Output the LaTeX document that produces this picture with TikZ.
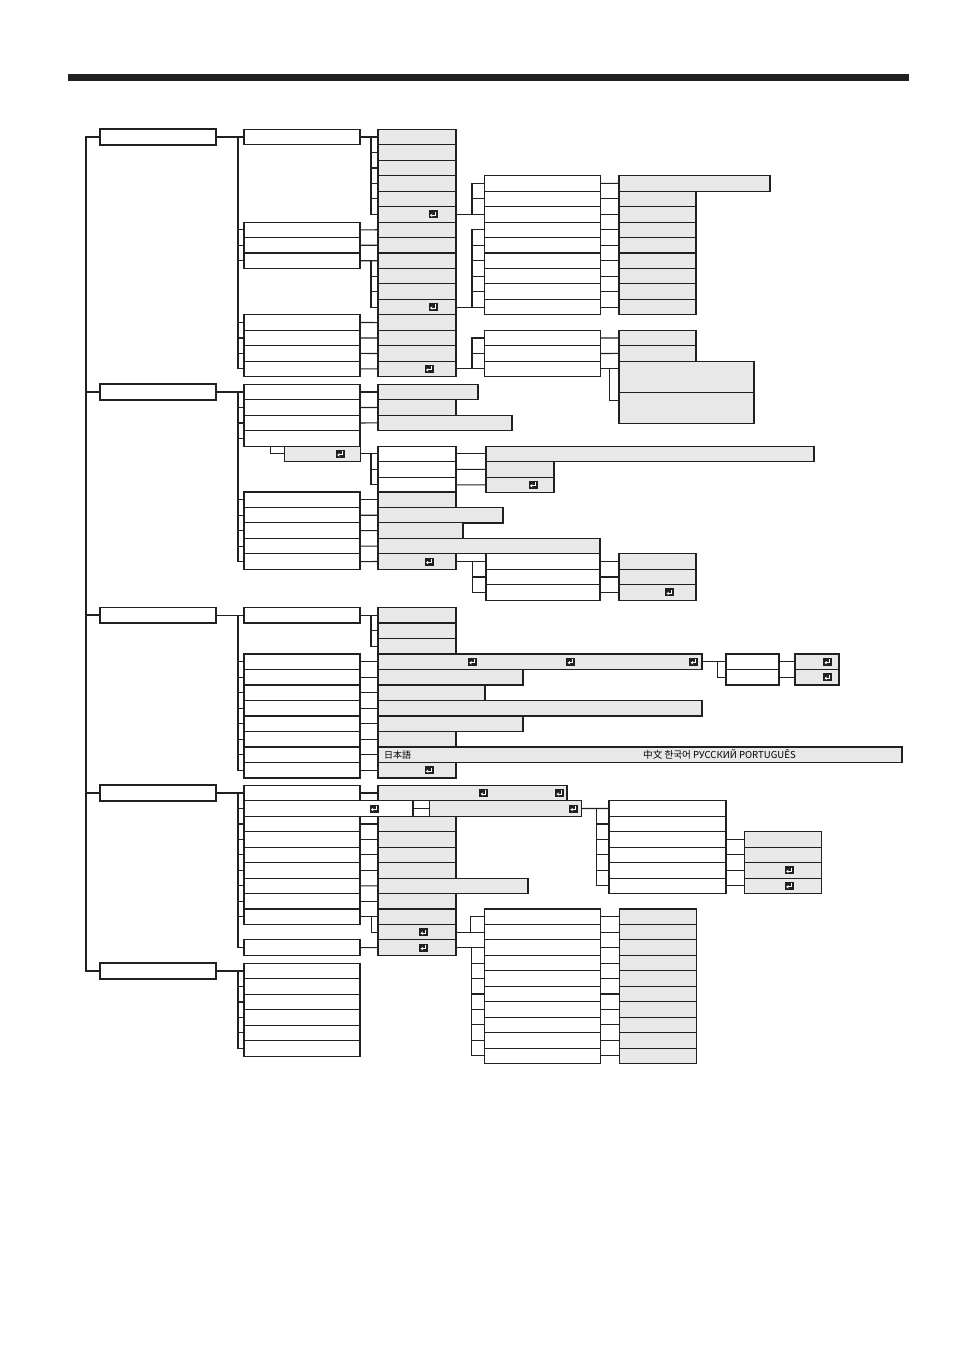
\documentclass[tikz,border=0pt]{standalone}
\usepackage{fontspec}
\usepackage{tikz}
\usetikzlibrary{arrows.meta,positioning}
\newfontfamily\cjk{Noto Sans CJK JP}
\definecolor{ink}{RGB}{35,31,32}
\definecolor{menugray}{RGB}{232,232,232}

\begin{document}
\begin{tikzpicture}[
  x=1pt,y=-1pt,
  wbox/.style={draw=ink,line width=1.1pt,fill=white,inner sep=0pt,outer sep=0pt,
               anchor=north west,minimum height=15.46pt,minimum width=#1},
  wbox/.default=116pt,
  gbox/.style={wbox=#1,fill=menugray},
  gbox/.default=78pt,
  mainbox/.style={wbox,line width=1.7pt},
  link/.style={draw=ink,line width=1.1pt},
  trunk/.style={draw=ink,line width=2pt},
  ent/.style={fill=ink,inner sep=0pt,minimum width=9pt,minimum height=8pt,
    path picture={\draw[white,line width=1pt,-{Stealth[length=2.4pt,width=3.4pt]}]
      ([shift={(2pt,2.6pt)}]path picture bounding box.center) |-
      ([shift={(-3pt,-1pt)}]path picture bounding box.center);}},
  every node/.style={font=\cjk\fontsize{9}{9}\selectfont},
]
\path[use as bounding box,fill=white] (0,0) rectangle (954,1352);
\fill[ink] (68,74) rectangle (909,81);

% --- menu 1 ---
\node[mainbox] (m1) at (100,129.3) {};
\node[wbox] (s1b1) at (244,129.3) {};
\node[wbox] (s1b2) at (244,222.1) {};
\node[wbox] (s1b3) at (244,237.5) {};
\node[wbox] (s1b4) at (244,253.0) {};
\node[wbox] (s1b5) at (244,314.8) {};
\node[wbox] (s1b6) at (244,330.3) {};
\node[wbox] (s1b7) at (244,345.7) {};
\node[wbox] (s1b8) at (244,361.2) {};
\foreach \i in {1,...,16}
  \node[gbox] (s1c\i) at (378,{129.3+15.46*(\i-1)}) {};
\foreach \i in {1,...,9}
  \node[wbox] (s1d\i) at (484.5,{129.3+15.46*(\i+2)}) {};
\foreach \i in {10,11,12}
  \node[wbox] (s1d\i) at (484.5,{129.3+15.46*(\i+3)}) {};
\node[gbox=151pt] (s1e1) at (619,175.7) {};
\foreach \i in {2,...,9}
  \node[gbox=77pt] (s1e\i) at (619,{129.3+15.46*(\i+2)}) {};
\node[gbox=77pt] (s1e10) at (619,330.3) {};
\node[gbox=77pt] (s1e11) at (619,345.7) {};
\node[gbox=135pt,minimum height=31pt] (s1e12) at (619,361.2) {};
\node[gbox=135pt,minimum height=31pt] (s1e13) at (619,392.1) {};
\node[ent] (k1) at ([xshift=-23pt]s1c6.east) {};
\node[ent] (k2) at ([xshift=-23pt]s1c12.east) {};
\node[ent] (k3) at ([xshift=-27pt]s1c16.east) {};

\draw[link] (m1.east) -- (s1b1.west);
\draw[link] ([xshift=-6pt]s1b1.west) |- (s1b8.west);
\foreach \i in {2,...,7} \draw[link] ([xshift=-6pt]s1b\i.west) -- (s1b\i.west);
\draw[link] (s1b1.east) -- (s1c1.west);
\draw[link] ([xshift=-7pt]s1c1.west) |- (s1c6.west);
\foreach \i in {2,...,5} \draw[link] ([xshift=-7pt]s1c\i.west) -- (s1c\i.west);
\draw[link] (s1b2.east) -- (s1c7.west);
\draw[link] (s1b3.east) -- (s1c8.west);
\draw[link] (s1b4.east) -- (s1c9.west);
\draw[link] ([xshift=-7pt]s1c9.west) |- (s1c12.west);
\foreach \i in {10,11} \draw[link] ([xshift=-7pt]s1c\i.west) -- (s1c\i.west);
\draw[link] (s1b5.east) -- (s1c13.west);
\draw[link] (s1b6.east) -- (s1c14.west);
\draw[link] (s1b7.east) -- (s1c15.west);
\draw[link] (s1b8.east) -- (s1c16.west);
\draw[link] (s1c6.east) -- (s1d3.west);
\draw[link] ([xshift=-12.5pt]s1d3.west) |- (s1d1.west);
\draw[link] ([xshift=-12.5pt]s1d2.west) -- (s1d2.west);
\draw[link] (s1c12.east) -- (s1d9.west);
\draw[link] ([xshift=-12.5pt]s1d9.west) |- (s1d4.west);
\foreach \i in {5,...,8} \draw[link] ([xshift=-12.5pt]s1d\i.west) -- (s1d\i.west);
\draw[link] (s1c16.east) -- (s1d12.west);
\draw[link] ([xshift=-12.5pt]s1d12.west) |- (s1d10.west);
\draw[link] ([xshift=-12.5pt]s1d11.west) -- (s1d11.west);
\foreach \i in {1,...,11} \draw[link] (s1d\i.east) -- (s1e\i.west);
\draw[link] (s1d12.east) -- (s1d12.east -| s1e12.west);
\draw[link] (s1d12.east) ++(9,0) |- ([yshift=-8pt]s1e13.north west);

% --- menu 2 ---
\node[mainbox] (m2) at (100,384.3) {};
\foreach \i in {1,...,4}
  \node[wbox] (s2b\i) at (244,{384.3+15.46*(\i-1)}) {};
\node[gbox=76pt] (s2sub) at (284.3,446.2) {};
\foreach \i in {5,...,9}
  \node[wbox] (s2b\i) at (244,{492+15.46*(\i-5)}) {};
\node[gbox=100pt] (s2c1) at (378,384.3) {};
\node[gbox] (s2c2) at (378,399.8) {};
\node[gbox=134pt] (s2c3) at (378,415.2) {};
\foreach \i in {1,2,3}
  \node[wbox=78pt] (s2w\i) at (378,{446.2+15.46*(\i-1)}) {};
\node[gbox=328pt] (s2g1) at (486,446.2) {};
\node[gbox=68pt] (s2g2) at (486,461.7) {};
\node[gbox=68pt] (s2g3) at (486,477.1) {};
\node[gbox] (s2c5) at (378,492) {};
\node[gbox=125pt] (s2c6) at (378,507.5) {};
\node[gbox=85pt] (s2c7) at (378,522.9) {};
\node[gbox=222pt] (s2c8) at (378,538.4) {};
\node[gbox] (s2c9) at (378,553.8) {};
\foreach \i in {1,2,3}
  \node[wbox=114pt] (s2d\i) at (486,{553.8+15.46*(\i-1)}) {};
\foreach \i in {1,2,3}
  \node[gbox=77pt] (s2e\i) at (619,{553.8+15.46*(\i-1)}) {};
\node[ent] (k4) at ([xshift=-20pt]s2sub.east) {};
\node[ent] (k5) at ([xshift=-21pt]s2g3.east) {};
\node[ent] (k6) at ([xshift=-27pt]s2c9.east) {};
\node[ent] (k7) at ([xshift=-26.5pt]s2e3.east) {};

\draw[link] (m2.east) -- (s2b1.west);
\draw[link] ([xshift=-6pt]s2b1.west) |- (s2b9.west);
\foreach \i in {2,...,8} \draw[link] ([xshift=-6pt]s2b\i.west) -- (s2b\i.west);
\foreach \i in {1,2,3} \draw[link] (s2b\i.east) -- (s2c\i.west);
\draw[link] (s2sub.west) -- ++(-14,0) |- (s2b4.south);
\draw[link] (s2sub.east) -- (s2w1.west);
\draw[link] ([xshift=-7pt]s2w1.west) |- (s2w3.west);
\draw[link] ([xshift=-7pt]s2w2.west) -- (s2w2.west);
\foreach \i in {1,2,3} \draw[link] (s2w\i.east) -- (s2g\i.west);
\foreach \i in {5,...,9} \draw[link] (s2b\i.east) -- (s2c\i.west);
\draw[link] (s2c9.east) -- (s2d1.west);
\draw[link] ([xshift=-13.3pt]s2d1.west) |- (s2d3.west);
\draw[link] ([xshift=-13.3pt]s2d2.west) -- (s2d2.west);
\foreach \i in {1,2,3} \draw[link] (s2d\i.east) -- (s2e\i.west);

% --- menu 3 ---
\node[mainbox] (m3) at (100,607.5) {};
\node[wbox] (s3b1) at (244,607.5) {};
\foreach \i in {2,...,9}
  \node[wbox] (s3b\i) at (244,{654+15.5*(\i-2)}) {};
\foreach \i in {1,2,3}
  \node[gbox] (s3c\i) at (378,{607.5+15.5*(\i-1)}) {};
\node[gbox=324pt] (s3c4) at (378,654) {};
\node[gbox=145pt] (s3c5) at (378,669.5) {};
\node[gbox=107pt] (s3c6) at (378,685) {};
\node[gbox=324pt] (s3c7) at (378,700.5) {};
\node[gbox=145pt] (s3c8) at (378,716) {};
\node[gbox] (s3c9) at (378,731.5) {};
\node[gbox=524pt] (s3c10) at (378,747) {};
\node[gbox] (s3c11) at (378,762.5) {};
\node[wbox=53pt] (s3w1) at (726,654) {};
\node[wbox=53pt] (s3w2) at (726,669.5) {};
\node[gbox=44pt] (s3g1) at (795,654) {};
\node[gbox=44pt] (s3g2) at (795,669.5) {};
\node[ent] (k8) at ([xshift=94.3pt]s3c4.west) {};
\node[ent] (k9) at ([xshift=192.7pt]s3c4.west) {};
\node[ent] (k10) at ([xshift=315.7pt]s3c4.west) {};
\node[ent] (k11) at ([xshift=-27pt]s3c11.east) {};
\node[ent] (k12) at ([xshift=-11.5pt]s3g1.east) {};
\node[ent] (k13) at ([xshift=-11.5pt]s3g2.east) {};
\node[anchor=west,inner sep=0pt] (jp) at ([xshift=6pt]s3c10.west) {日本語};
\node[anchor=west,inner sep=0pt,font=\cjk\fontsize{9.6}{9.6}\selectfont] (langs)
  at ([xshift=265pt]s3c10.west) {中文 한국어 РУССКИЙ PORTUGUÊS};

\draw[link] (m3.east) -- (s3b1.west);
\draw[link] ([xshift=-6pt]s3b1.west) |- (s3b9.west);
\foreach \i in {2,...,8} \draw[link] ([xshift=-6pt]s3b\i.west) -- (s3b\i.west);
\draw[link] (s3b1.east) -- (s3c1.west);
\draw[link] ([xshift=-7pt]s3c1.west) |- (s3c3.west);
\draw[link] ([xshift=-7pt]s3c2.west) -- (s3c2.west);
\foreach \i [evaluate=\i as \j using int(\i+2)] in {2,...,9}
  \draw[link] (s3b\i.east) -- (s3c\j.west);
\draw[link] (s3c4.east) -- (s3w1.west);
\draw[link] ([xshift=-8.7pt]s3w1.west) |- (s3w2.west);
\draw[link] (s3w1.east) -- (s3g1.west);
\draw[link] (s3w2.east) -- (s3g2.west);

% --- menu 4 ---
\node[mainbox] (m4) at (100,785.3) {};
\node[wbox] (s4b1) at (244,785.3) {};
\node[wbox=169pt] (s4b2) at (244,800.8) {};
\foreach \i in {3,...,9}
  \node[wbox] (s4b\i) at (244,{785.3+15.46*(\i-1)}) {};
\node[wbox] (s4b10) at (244,939.9) {};
\node[wbox=16pt,minimum height=7.73pt] (s4t1) at (413.3,800.8) {};
\node[wbox=16pt,minimum height=7.73pt] (s4t2) at (413.3,808.5) {};
\node[gbox=189pt] (s4c1) at (378,785.3) {};
\node[gbox=152pt] (s4c2) at (429.3,800.8) {};
\foreach \i in {3,4,5,6,8,9,10,11}
  \node[gbox] (s4c\i) at (378,{785.3+15.46*(\i-1)}) {};
\node[gbox=150pt] (s4c7) at (378,878.1) {};
\foreach \i in {1,...,6}
  \node[wbox=117pt] (s4f\i) at (609,{785.3+15.46*\i}) {};
\foreach \i in {1,...,4}
  \node[gbox=77pt] (s4g\i) at (744.5,{785.3+15.46*(\i+2)}) {};
\foreach \i in {1,...,10}
  \node[wbox] (s4d\i) at (484.3,{785.3+15.46*(\i+7)}) {};
\foreach \i in {1,...,10}
  \node[gbox=77pt] (s4e\i) at (619.3,{785.3+15.46*(\i+7)}) {};
\node[ent] (k14) at ([xshift=-39pt]s4b2.east) {};
\node[ent] (k15) at ([xshift=-83.2pt]s4c1.east) {};
\node[ent] (k16) at ([xshift=-7.4pt]s4c1.east) {};
\node[ent] (k17) at ([xshift=-7.9pt]s4c2.east) {};
\node[ent] (k18) at ([xshift=-32.3pt]s4g3.east) {};
\node[ent] (k19) at ([xshift=-32.3pt]s4g4.east) {};
\node[ent] (k20) at ([xshift=-32.5pt]s4c10.east) {};
\node[ent] (k21) at ([xshift=-32.5pt]s4c11.east) {};

\draw[link] (m4.east) -- (s4b1.west);
\draw[link] ([xshift=-6pt]s4b1.west) |- (s4b10.west);
\foreach \i in {2,...,9} \draw[link] ([xshift=-6pt]s4b\i.west) -- (s4b\i.west);
\draw[link] (s4b1.east) -- (s4c1.west);
\draw[link] (s4c2.east) -- (s4f1.west);
\draw[link] ([xshift=-12.5pt]s4f1.west) |- (s4f6.west);
\foreach \i in {2,...,5} \draw[link] ([xshift=-12.5pt]s4f\i.west) -- (s4f\i.west);
\foreach \i/\j in {3/1,4/2,5/3,6/4} \draw[link] (s4f\i.east) -- (s4g\j.west);
\foreach \i in {3,...,9} \draw[link] (s4b\i.east) -- (s4c\i.west);
\draw[link] ([xshift=-6.5pt]s4c9.west) |- (s4c10.west);
\draw[link] (s4b10.east) -- (s4c11.west);
\draw[link] (s4c10.east) -- (s4d2.west);
\draw[link] ([xshift=-14pt]s4d2.west) |- (s4d1.west);
\draw[link] (s4c11.east) -- (s4d3.west);
\draw[link] ([xshift=-12.5pt]s4d3.west) |- (s4d10.west);
\foreach \i in {4,...,9} \draw[link] ([xshift=-12.5pt]s4d\i.west) -- (s4d\i.west);
\foreach \i in {1,...,10} \draw[link] (s4d\i.east) -- (s4e\i.west);

% --- menu 5 ---
\node[mainbox] (m5) at (100,963.3) {};
\foreach \i in {1,...,6}
  \node[wbox] (s5b\i) at (244,{963.3+15.46*(\i-1)}) {};
\draw[link] (m5.east) -- (s5b1.west);
\draw[link] ([xshift=-6pt]s5b1.west) |- (s5b6.west);
\foreach \i in {2,...,5} \draw[link] ([xshift=-6pt]s5b\i.west) -- (s5b\i.west);

% main trunk
\draw[trunk] (m1.west) -- ++(-14,0) |- (m5.west);
\foreach \i in {2,3,4} \draw[trunk] (m\i.west) -- ++(-14,0);
\end{tikzpicture}
\end{document}
